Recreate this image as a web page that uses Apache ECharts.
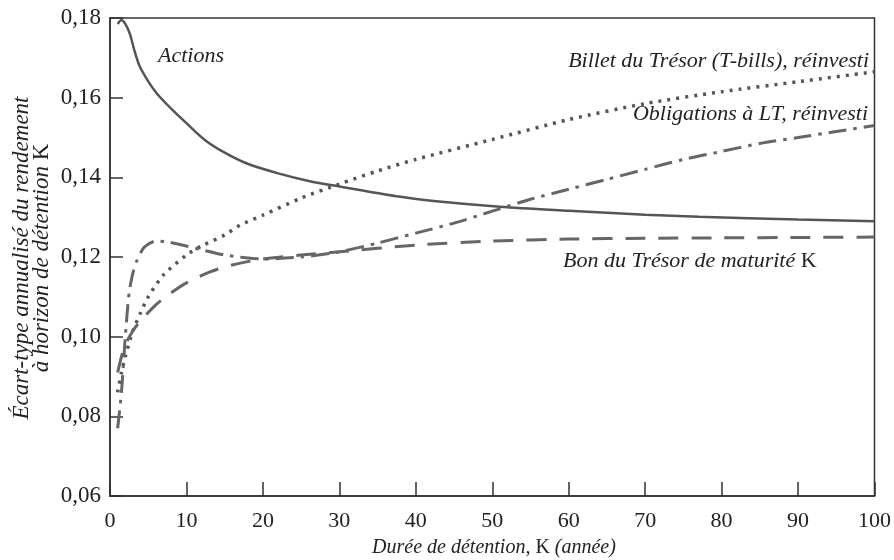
<!DOCTYPE html>
<html><head><meta charset="utf-8">
<script src="https://cdn.jsdelivr.net/npm/echarts@6/dist/echarts.min.js"></script>
<style>html,body{margin:0;padding:0;background:#fff}#c{width:894px;height:560px}</style>
</head><body><div id="c"></div>
<script>
// ---- data ----
const actionsK = [1, 1.5, 2, 2.6, 3.2, 3.9, 5, 6.1, 7.3, 8.5, 10, 12.4, 15, 18, 22, 26, 30, 38, 42, 51, 60, 70, 77, 90, 100];
const actionsV = [0.1785, 0.1795, 0.1785, 0.176, 0.1718, 0.1678, 0.1641, 0.1611, 0.1586, 0.1563, 0.1536, 0.1494, 0.1462, 0.1434, 0.141, 0.1391, 0.1377, 0.1351, 0.1341, 0.1326, 0.1316, 0.1306, 0.1301, 0.1294, 0.129];

const tbillsK = [1, 1.5, 2, 3, 4, 5, 7, 10, 12, 15, 17, 20, 25, 30, 35, 40, 50, 60, 70, 80, 90, 100];
const tbillsV = [0.086, 0.091, 0.095, 0.1015, 0.106, 0.110, 0.1155, 0.1205, 0.1228, 0.1255, 0.128, 0.1305, 0.1348, 0.1383, 0.1416, 0.1445, 0.1495, 0.1545, 0.1585, 0.1615, 0.164, 0.1665];

const bondsK = [1, 1.5, 2, 2.5, 3, 3.5, 4.5, 6, 7.5, 9, 12, 15, 20, 25, 30, 35, 40, 45, 50, 55, 60, 65, 70, 75, 80, 85, 90, 95, 100];
const bondsV = [0.077, 0.086, 0.100, 0.111, 0.116, 0.119, 0.1225, 0.124, 0.1238, 0.1232, 0.1218, 0.1205, 0.1195, 0.1200, 0.1213, 0.1235, 0.126, 0.1285, 0.1315, 0.1345, 0.137, 0.1395, 0.142, 0.1445, 0.1465, 0.1485, 0.150, 0.1515, 0.153];

const bonK = [1, 1.5, 2, 3, 4, 6, 8, 10, 13, 16, 20, 25, 30, 40, 50, 60, 70, 80, 90, 100];
const bonV = [0.091, 0.095, 0.098, 0.1015, 0.104, 0.108, 0.111, 0.1135, 0.1162, 0.118, 0.1195, 0.1205, 0.1213, 0.123, 0.124, 0.1245, 0.1247, 0.1248, 0.1249, 0.125];

const xTicks = [0, 10, 20, 30, 40, 50, 60, 70, 80, 90, 100];
const yTicks = [0.06, 0.08, 0.10, 0.12, 0.14, 0.16, 0.18];

const zip = (k, v) => k.map((x, i) => [x, v[i]]);
const serif = 'Liberation Serif';
const ink = '#222';
const it = 'italic 22px "Liberation Serif"';
const up = '22px "Liberation Serif"';

const chart = echarts.init(document.getElementById('c'));
chart.setOption({
  animation: false,
  grid: {left: 110, right: 16, top: 18, bottom: 64, show: true, borderColor: '#333', borderWidth: 1.5},
  xAxis: {
    type: 'value', min: xTicks[0], max: xTicks[xTicks.length - 1], interval: 10,
    axisLine: {lineStyle: {color: '#333', width: 1.5}},
    axisTick: {inside: true, length: 14, lineStyle: {color: '#333', width: 1.5}},
    splitLine: {show: false},
    axisLabel: {fontFamily: serif, fontSize: 22, color: ink, margin: 14}
  },
  yAxis: {
    type: 'value', min: yTicks[0], max: yTicks[yTicks.length - 1], interval: 0.02,
    axisLine: {show: true, lineStyle: {color: '#333', width: 1.5}},
    axisTick: {show: true, inside: true, length: 13, lineStyle: {color: '#333', width: 1.5}},
    splitLine: {show: false},
    axisLabel: {fontFamily: serif, fontSize: 23, color: ink, margin: 9,
      formatter: v => v.toFixed(2).replace('.', ',')}
  },
  series: [
    {type: 'line', name: 'Actions', data: zip(actionsK, actionsV), smooth: 0.3, showSymbol: false,
      lineStyle: {color: '#555', width: 2.5}},
    {type: 'line', name: 'Billet du Trésor', data: zip(tbillsK, tbillsV), smooth: 0.25, showSymbol: false,
      lineStyle: {color: '#555', width: 3.5, type: [3, 6]}},
    {type: 'line', name: 'Obligations à LT', data: zip(bondsK, bondsV), smooth: 0.25, showSymbol: false,
      lineStyle: {color: '#666', width: 3, type: [18, 7, 3.5, 7]}},
    {type: 'line', name: 'Bon du Trésor', data: zip(bonK, bonV), smooth: 0.25, showSymbol: false,
      lineStyle: {color: '#666', width: 3, type: [20, 13]}}
  ],
  graphic: [
    {type: 'text', x: 158, y: 56, style: {text: 'Actions', font: it, fill: ink, textVerticalAlign: 'middle'}},
    {type: 'text', x: 869, y: 61, style: {text: 'Billet du Trésor (T-bills), réinvesti', font: it, fill: ink, textAlign: 'right', textVerticalAlign: 'middle'}},
    {type: 'text', x: 868, y: 114, style: {text: 'Obligations à LT, réinvesti', font: it, fill: ink, textAlign: 'right', textVerticalAlign: 'middle'}},
    {type: 'text', x: 563, y: 261, style: {
      text: '{i|Bon du Trésor de maturité }{n|K}',
      rich: {i: {font: it, fill: ink}, n: {font: up, fill: ink}},
      textVerticalAlign: 'middle'}},
    {type: 'text', x: 494, y: 548, style: {
      text: '{i|Durée de détention, }{n|K}{i| (année)}',
      rich: {i: {font: 'italic 20px "Liberation Serif"', fill: ink}, n: {font: '20px "Liberation Serif"', fill: ink}},
      textAlign: 'center', textVerticalAlign: 'middle'}},
    {type: 'text', x: 22, y: 258, rotation: Math.PI / 2, style: {
      text: 'Écart-type annualisé du rendement', font: 'italic 23px "Liberation Serif"', fill: ink,
      textAlign: 'center', textVerticalAlign: 'middle'}},
    {type: 'text', x: 42, y: 258, rotation: Math.PI / 2, style: {
      text: '{i|à horizon de détention }{n|K}',
      rich: {i: {font: 'italic 23px "Liberation Serif"', fill: ink}, n: {font: '23px "Liberation Serif"', fill: ink}},
      textAlign: 'center', textVerticalAlign: 'middle'}}
  ]
});
</script></body></html>
